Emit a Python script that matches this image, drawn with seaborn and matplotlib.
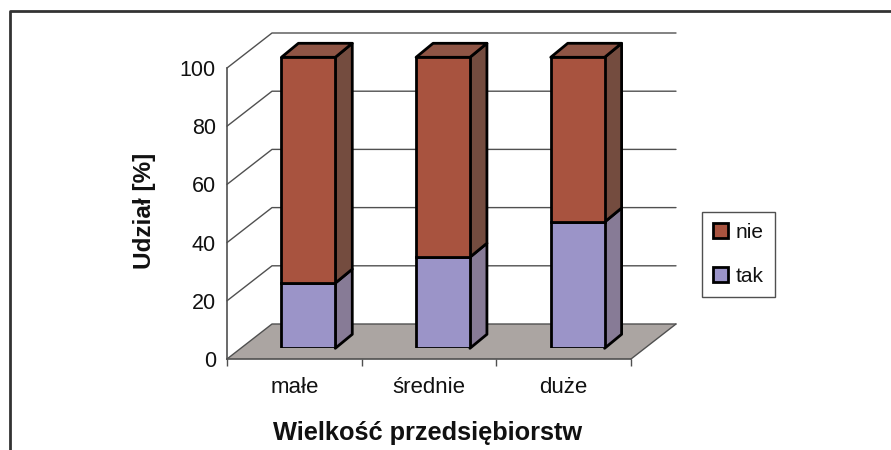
import matplotlib
matplotlib.use("Agg")
import matplotlib.pyplot as plt
from matplotlib.patches import Polygon, Patch
import numpy as np
import pandas as pd
import seaborn as sns

categories = ["małe", "średnie", "duże"]
tak_values = [22.4, 31.3, 43.4]
nie_values = [77.6, 68.7, 56.6]
y_ticks = [0, 20, 40, 60, 80, 100]

W, H = 891, 450
# plot box in pixels
LEFT, RIGHT, ZERO, HUNDRED = 227, 631, 359, 68
BACK_DX, BACK_DY = 45, 35  # depth of the walls
BAR_SHIFT_X, BAR_SHIFT_Y = 14, 10.7  # bars stand inside the floor
BAR_DX, BAR_DY = 17, 14  # depth of a bar

LINE = "#505050"
FLOOR = "#aba5a2"
NIE = ("#a8533f", "#744c3f", "#8f5545")
TAK = ("#9b94c8", "#877b96", "#9b94c8")

sns.set_theme(style="white")
plt.rcParams["font.family"] = ["Liberation Sans", "DejaVu Sans"]

fig = plt.figure(figsize=(W / 100, H / 100), dpi=100)


def box(shift_x=0, shift_y=0):
    return [
        (LEFT + shift_x) / W,
        (H - ZERO + shift_y) / H,
        (RIGHT - LEFT) / W,
        (ZERO - HUNDRED) / H,
    ]


ax = fig.add_axes(box())
ax.set_xlim(-0.5, 2.5)
ax.set_ylim(0, 100)
x_per_px = 3 / (RIGHT - LEFT)
y_per_px = 100 / (ZERO - HUNDRED)
back_x = BACK_DX * x_per_px
back_y = BACK_DY * y_per_px

# floor and walls
ax.add_patch(
    Polygon(
        [(-0.5, 0), (2.5, 0), (2.5 + back_x, back_y), (-0.5 + back_x, back_y)],
        closed=True,
        facecolor=FLOOR,
        edgecolor="none",
        clip_on=False,
        zorder=1,
    )
)
ax.plot(
    [2.5, 2.5 + back_x], [0, back_y], color=LINE, lw=1, clip_on=False, zorder=2
)
for t in y_ticks:
    ax.plot(
        [-0.5, -0.5 + back_x, 2.5 + back_x],
        [t, t + back_y, t + back_y],
        color=LINE,
        lw=1,
        clip_on=False,
        zorder=2,
    )

ax.set_xticks([-0.5, 0.5, 1.5, 2.5])
ax.set_xticklabels([])
ax.set_yticks(y_ticks)
ax.tick_params(axis="y", labelsize=15.5, length=5, width=1, color=LINE, pad=3, labelcolor="#111111")
ax.tick_params(axis="x", length=5, width=1, color=LINE, bottom=True)
sns.despine(ax=ax, top=True, right=True)
for side in ("left", "bottom"):
    ax.spines[side].set_color(LINE)
    ax.spines[side].set_linewidth(1.2)
ax.patch.set_alpha(0)

for i, name in enumerate(categories):
    ax.text(
        i,
        -9.7,
        name,
        ha="center",
        va="center",
        fontsize=16,
        color="#111111",
    )
ax.text(
    0.99,
    -25.5,
    "Wielkość przedsiębiorstw",
    ha="center",
    va="center",
    fontsize=18.3,
    fontweight="bold",
    color="#111111",
)
ax.text(
    -0.5 - 83 * x_per_px,
    51,
    "Udział [%]",
    rotation=90,
    ha="center",
    va="center",
    fontsize=17.5,
    fontweight="bold",
    color="#111111",
)

# the bars live on a second axes moved into the floor
bars = fig.add_axes(box(BAR_SHIFT_X, BAR_SHIFT_Y))
bars.patch.set_alpha(0)
df = pd.DataFrame({"category": categories, "tak": tak_values, "nie": nie_values})
sns.barplot(
    data=df,
    x="category",
    y="tak",
    color=TAK[0],
    saturation=1,
    width=0.4,
    edgecolor="black",
    linewidth=2,
    ax=bars,
    zorder=3,
)
sns.barplot(
    data=df,
    x="category",
    y="nie",
    bottom=df["tak"],
    color=NIE[0],
    saturation=1,
    width=0.4,
    edgecolor="black",
    linewidth=2,
    ax=bars,
    zorder=3,
)
bars.set_xlim(-0.5, 2.5)
bars.set_ylim(0, 100)
bars.axis("off")

bar_dx = BAR_DX * x_per_px
bar_dy = BAR_DY * y_per_px
for p in bars.patches:
    x0 = p.get_x()
    x1 = x0 + p.get_width()
    y0 = p.get_y()
    y1 = y0 + p.get_height()
    colors = NIE if y1 > 99.9 else TAK
    bars.add_patch(
        Polygon(
            [(x1, y0), (x1 + bar_dx, y0 + bar_dy), (x1 + bar_dx, y1 + bar_dy), (x1, y1)],
            closed=True,
            facecolor=colors[1],
            edgecolor="black",
            lw=2,
            joinstyle="round",
            clip_on=False,
            zorder=2.5,
        )
    )
    if y1 > 99.9:
        bars.add_patch(
            Polygon(
                [(x0, y1), (x0 + bar_dx, y1 + bar_dy), (x1 + bar_dx, y1 + bar_dy), (x1, y1)],
                closed=True,
                facecolor=colors[2],
                edgecolor="black",
                lw=2,
                joinstyle="round",
                clip_on=False,
                zorder=2.5,
            )
        )

handles = [
    Patch(facecolor=NIE[0], edgecolor="black", lw=2, label="nie"),
    Patch(facecolor=TAK[0], edgecolor="black", lw=2, label="tak"),
]
fig.legend(
    handles=handles,
    loc="center left",
    bbox_to_anchor=(702 / W, 1 - 254.5 / H),
    fontsize=15,
    frameon=True,
    fancybox=False,
    edgecolor=LINE,
    framealpha=1,
    handlelength=0.7,
    handleheight=0.7,
    handletextpad=0.35,
    labelspacing=1.2,
    borderpad=0.55,
    borderaxespad=0,
    labelcolor="#111111",
)

# outer frame of the scanned chart, open at the bottom and right
fig.add_artist(plt.Line2D([10 / W, 10 / W, 1], [0, 1 - 11 / H, 1 - 11 / H], color="#333333", lw=2))

fig.savefig("out.png", dpi=100)
